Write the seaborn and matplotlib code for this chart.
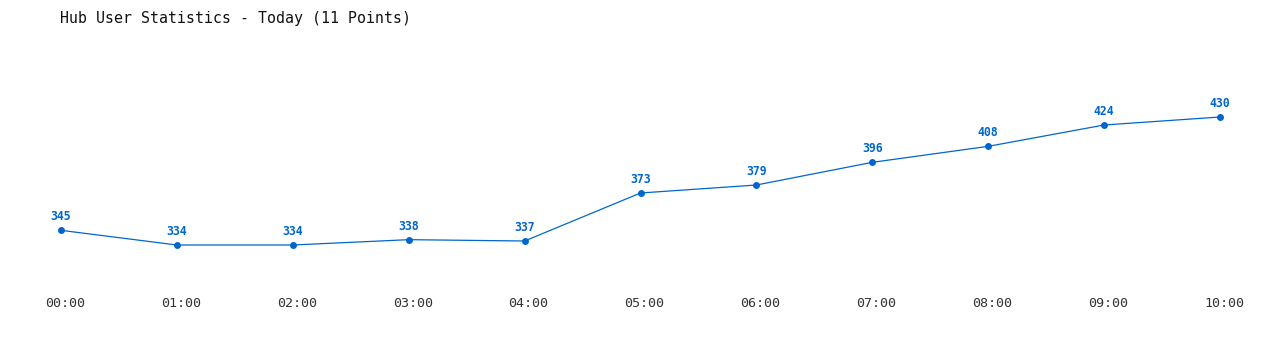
import matplotlib
matplotlib.use("Agg")
import matplotlib.pyplot as plt
import matplotlib.transforms as mtransforms
import seaborn as sns
import pandas as pd

hours = ["00:00", "01:00", "02:00", "03:00", "04:00", "05:00",
         "06:00", "07:00", "08:00", "09:00", "10:00"]
users = [345, 334, 334, 338, 337, 373, 379, 396, 408, 424, 430]
title = "Hub User Statistics - Today (11 Points)"

sns.set_theme(style="white")
plt.rcParams['font.family'] = ['DejaVu Sans Mono', 'DejaVu Sans']

color = "#0066cc"
df = pd.DataFrame({"x": range(len(hours)), "users": users})

fig = plt.figure(figsize=(12.8, 3.5), dpi=100)
ax = fig.add_axes([61/1280, 1 - 290/350, (1220 - 61)/1280, 250/350])
sns.lineplot(data=df, x="x", y="users", ax=ax, color=color, linewidth=0.9,
             marker="o", markersize=5, markeredgewidth=0, markerfacecolor=color)
for ln in ax.lines:
    ln.set_clip_on(False)

for i, v in enumerate(users):
    ax.annotate(str(v), (i, v), xytext=(0, 5), textcoords="offset points",
                ha="center", va="bottom", color=color, fontsize=8.3,
                fontweight="bold")

ax.set_xlim(0, len(hours) - 1)
ax.set_ylim(300.25, 487.75)
ax.set_xticks(range(len(hours)))
ax.set_xticklabels(hours, fontsize=9.6, color="#333333")
ax.tick_params(axis="x", length=0, pad=5)
shift = mtransforms.ScaledTranslation(4/100, 0, fig.dpi_scale_trans)
for lbl in ax.get_xticklabels():
    lbl.set_transform(lbl.get_transform() + shift)
ax.set_yticks([])
ax.set_xlabel("")
ax.set_ylabel("")
for s in ax.spines.values():
    s.set_visible(False)

fig.text(60/1280, 1 - 18/350, title, ha="left", va="center",
         fontsize=10.7, color="#111111")

fig.savefig("out.png", dpi=100, facecolor="white")
